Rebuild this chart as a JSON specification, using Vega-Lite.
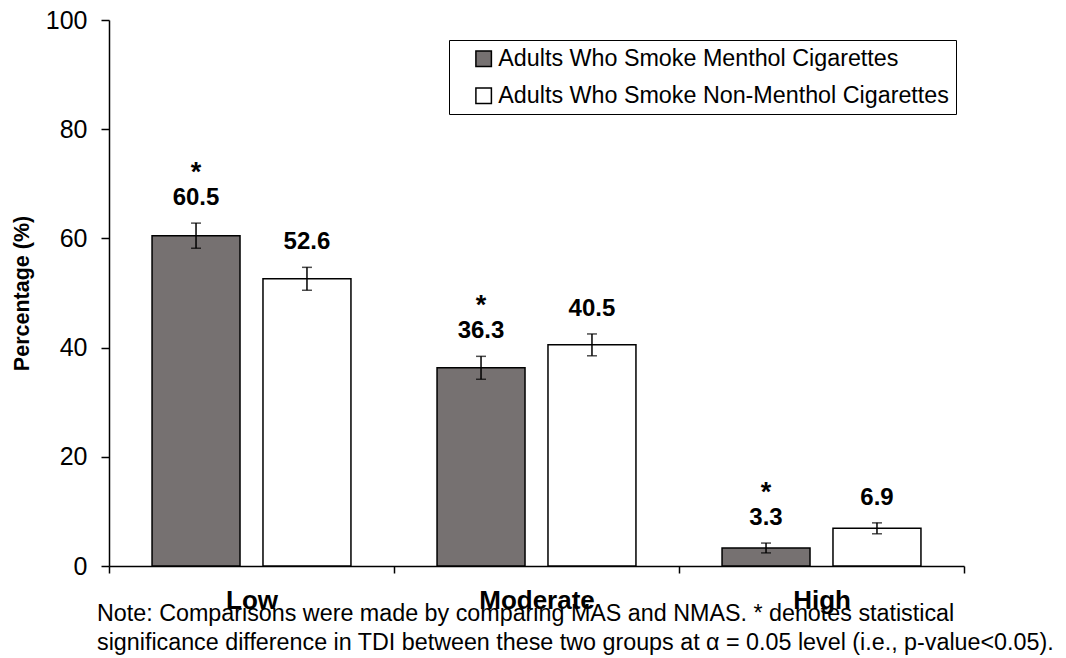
{
  "$schema": "https://vega.github.io/schema/vega-lite/v6.json",
  "width": 855,
  "height": 546,
  "autosize": {"type": "none"},
  "padding": {"left": 109, "top": 20, "right": 102, "bottom": 92},
  "background": "white",
  "config": {
    "font": "Liberation Sans",
    "view": {"stroke": null},
    "axis": {"domainColor": "black", "tickColor": "black", "labelColor": "black", "titleColor": "black", "domainWidth": 1.5, "tickWidth": 1.5, "grid": false}
  },
  "title": {
    "text": [
      "Note: Comparisons were made by comparing MAS and NMAS. * denotes statistical",
      "significance difference in TDI between these two groups at α = 0.05 level (i.e., p-value<0.05)."
    ],
    "orient": "bottom",
    "anchor": "start",
    "frame": "group",
    "font": "Liberation Sans",
    "fontSize": 23.3,
    "fontWeight": "normal",
    "color": "black",
    "lineHeight": 29,
    "offset": -10,
    "dx": -12
  },
  "data": {
    "values": [
      {"level": "Low", "group": "Adults Who Smoke Menthol Cigarettes", "value": 60.5, "lo": 58.2, "hi": 62.8, "sig": "*"},
      {"level": "Low", "group": "Adults Who Smoke Non-Menthol Cigarettes", "value": 52.6, "lo": 50.5, "hi": 54.7, "sig": ""},
      {"level": "Moderate", "group": "Adults Who Smoke Menthol Cigarettes", "value": 36.3, "lo": 34.2, "hi": 38.4, "sig": "*"},
      {"level": "Moderate", "group": "Adults Who Smoke Non-Menthol Cigarettes", "value": 40.5, "lo": 38.5, "hi": 42.5, "sig": ""},
      {"level": "High", "group": "Adults Who Smoke Menthol Cigarettes", "value": 3.3, "lo": 2.4, "hi": 4.2, "sig": "*"},
      {"level": "High", "group": "Adults Who Smoke Non-Menthol Cigarettes", "value": 6.9, "lo": 5.9, "hi": 7.9, "sig": ""}
    ]
  },
  "encoding": {
    "x": {
      "field": "level",
      "type": "nominal",
      "sort": ["Low", "Moderate", "High"],
      "scale": {"paddingInner": 0, "paddingOuter": 0},
      "axis": {
        "title": null,
        "labelAngle": 0,
        "labelFontSize": 26,
        "labelFontWeight": "bold",
        "labelPadding": 14,
        "tickBand": "extent",
        "tickSize": 7
      }
    },
    "xOffset": {
      "field": "group",
      "type": "nominal",
      "sort": ["Adults Who Smoke Menthol Cigarettes", "Adults Who Smoke Non-Menthol Cigarettes"],
      "scale": {"paddingInner": 0.207, "paddingOuter": 0.388}
    }
  },
  "layer": [
    {
      "mark": {"type": "bar", "stroke": "black", "strokeWidth": 1.5},
      "encoding": {
        "y": {
          "field": "value",
          "type": "quantitative",
          "scale": {"domain": [0, 100]},
          "axis": {
            "title": "Percentage (%)",
            "values": [0, 20, 40, 60, 80, 100],
            "labelFontSize": 25,
            "labelPadding": 14,
            "tickSize": 8,
            "titleFontSize": 21.5,
            "titleFontWeight": "bold",
            "titlePadding": 12
          }
        },
        "fill": {
          "field": "group",
          "type": "nominal",
          "scale": {
            "domain": ["Adults Who Smoke Menthol Cigarettes", "Adults Who Smoke Non-Menthol Cigarettes"],
            "range": ["#767171", "#ffffff"]
          },
          "legend": {
            "title": null,
            "orient": "none",
            "legendX": 340,
            "legendY": 20,
            "symbolType": "square",
            "symbolSize": 240,
            "symbolStrokeColor": "black",
            "symbolStrokeWidth": 1.5,
            "labelFontSize": 23.3,
            "labelColor": "black",
            "labelLimit": 700,
            "labelOffset": 3,
            "labelExpr": "datum.label + '\u00a0\u00a0\u00a0'",
            "symbolOffset": 16,
            "rowPadding": 13,
            "padding": 7,
            "strokeColor": "black",
            "fillColor": "white"
          }
        }
      }
    },
    {
      "mark": {"type": "rule", "color": "black", "strokeWidth": 1.5},
      "encoding": {
        "y": {"field": "lo", "type": "quantitative"},
        "y2": {"field": "hi"}
      }
    },
    {
      "mark": {"type": "tick", "orient": "horizontal", "size": 10, "thickness": 1.5, "color": "black"},
      "encoding": {"y": {"field": "lo", "type": "quantitative"}}
    },
    {
      "mark": {"type": "tick", "orient": "horizontal", "size": 10, "thickness": 1.5, "color": "black"},
      "encoding": {"y": {"field": "hi", "type": "quantitative"}}
    },
    {
      "mark": {"type": "text", "fontSize": 24, "fontWeight": "bold", "baseline": "middle", "dy": -25, "color": "black"},
      "encoding": {
        "y": {"field": "hi", "type": "quantitative"},
        "text": {"field": "value", "type": "quantitative", "format": ".1f"}
      }
    },
    {
      "mark": {"type": "text", "fontSize": 27, "fontWeight": "bold", "baseline": "middle", "dy": -50, "color": "black"},
      "encoding": {
        "y": {"field": "hi", "type": "quantitative"},
        "text": {"field": "sig", "type": "nominal"}
      }
    }
  ]
}
